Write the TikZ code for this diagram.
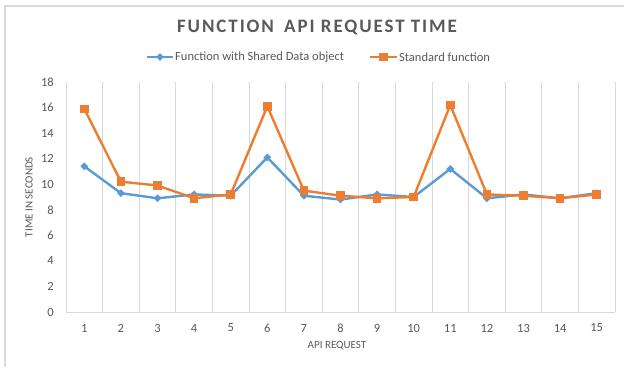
\documentclass[tikz,border=0pt]{standalone}
\usepackage{fontspec}
\setmainfont{Carlito}
\newfontfamily\titlefont[LetterSpace=10]{Carlito}
\usetikzlibrary{shapes.geometric}

\definecolor{shared}{HTML}{5B9BD5}
\definecolor{standard}{HTML}{ED7D31}
\definecolor{gridgray}{HTML}{D9D9D9}
\definecolor{labelgray}{HTML}{595959}

\tikzset{
  ticklabel/.style={text=labelgray,font=\fontsize{12.5}{13}\selectfont,inner sep=1pt},
  keylabel/.style={text=labelgray,font=\fontsize{12.5}{13}\selectfont,inner sep=1pt,anchor=west},
  axistitle/.style={text=labelgray,font=\fontsize{11}{12}\selectfont,inner sep=1pt},
  sharedline/.style={shared,line width=2.4pt,line join=round},
  standardline/.style={standard,line width=2.4pt,line join=round},
  sharedmark/.style={diamond,fill=shared,inner sep=0pt,minimum size=8pt},
  standardmark/.style={rectangle,fill=standard,inner sep=0pt,minimum size=8.5pt},
}

\begin{document}
\begin{tikzpicture}[x=1pt,y=-1pt]
  \useasboundingbox (0,0) rectangle (624,367);

  % chart frame
  \draw[gridgray,line width=1.5pt] (5,367) -- (5,6) -- (624,6);

  % title and legend
  \node (title) at (317,27) {\titlefont\bfseries\fontsize{19}{21}\selectfont\color{labelgray}FUNCTION\hspace{4pt} API REQUEST TIME};
  \coordinate (ka) at (147,57);
  \coordinate (kb) at (173,57);
  \draw[sharedline] (ka) -- (kb);
  \node[sharedmark] (kam) at (160,57) {};
  \node[keylabel] (keyshared) at (174,57) {Function with Shared Data object};
  \coordinate (kc) at (370,57);
  \coordinate (kd) at (397,57);
  \draw[standardline] (kc) -- (kd);
  \node[standardmark] (kcm) at (383.5,57) {};
  \node[keylabel] (keystandard) at (398,57) {Standard function};

  % axis titles
  \node[axistitle,rotate=90] (ytitle) at (29,197) {TIME IN SECONDS};
  \node[axistitle] (xtitle) at (337,346) {API REQUEST};

  \begin{scope}[shift={(66,312)},x=36.6pt,y=12.778pt]
    % grid
    \foreach \i in {0,...,15}
      \draw[gridgray,line width=1pt] (\i,0) -- (\i,18);
    \draw[gridgray,line width=1pt] (0,0) -- (15,0);
    \foreach \v in {0,2,...,18}
      \node[ticklabel,anchor=east] (y\v) at ([xshift=-11pt]0,\v) {\v};
    \foreach \i in {1,...,15}
      \node[ticklabel] (x\i) at ([yshift=-16pt]\i-0.5,0) {\i};

    % data points
    \foreach \v [count=\i] in {11.4,9.3,8.9,9.2,9.1,12.1,9.1,8.8,9.2,9.0,11.2,8.9,9.2,8.9,9.3}
      \coordinate (s\i) at (\i-0.5,\v);
    \foreach \v [count=\i] in {15.9,10.2,9.9,8.9,9.2,16.1,9.5,9.1,8.9,9.0,16.2,9.2,9.1,8.9,9.2}
      \coordinate (t\i) at (\i-0.5,\v);

    % series
    \draw[sharedline] (s1) \foreach \i in {2,...,15} { -- (s\i) };
    \foreach \i in {1,...,15}
      \node[sharedmark] (sm\i) at (s\i) {};
    \draw[standardline] (t1) \foreach \i in {2,...,15} { -- (t\i) };
    \foreach \i in {1,...,15}
      \node[standardmark] (tm\i) at (t\i) {};
  \end{scope}
\end{tikzpicture}
\end{document}
